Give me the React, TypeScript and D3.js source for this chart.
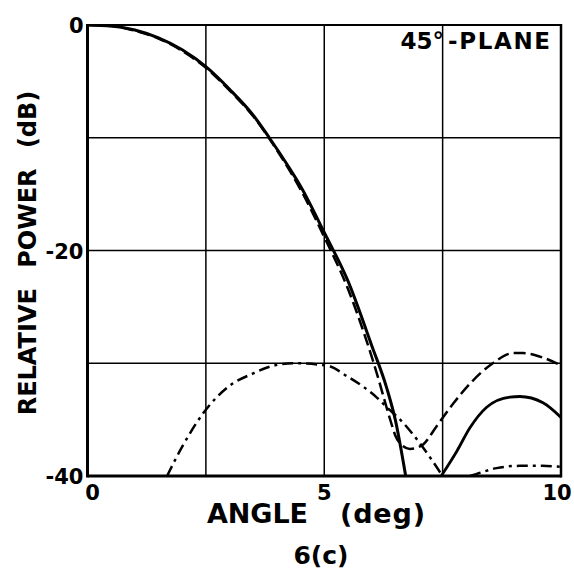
import React from "react";
import * as d3 from "d3";

const xTicks = [0, 2.5, 5, 7.5, 10];
const yTicks = [0, -10, -20, -30, -40];
const xLabels = [
  { v: 0, t: "0" },
  { v: 5, t: "5" },
  { v: 10, t: "10" },
];
const yLabels = [
  { v: 0, t: "0" },
  { v: -20, t: "-20" },
  { v: -40, t: "-40" },
];

const solidMainX = [0, 0.5, 1, 1.5, 2, 2.5, 3, 3.5, 3.84, 4.25, 4.5, 5, 5.5, 6, 6.32, 6.5, 6.72];
const solidMainY = [0, -0.1, -0.45, -1.15, -2.2, -3.7, -5.7, -8.0, -10, -12.6, -14.3, -18.4, -22.7, -28.4, -32.2, -35.0, -40];

const solidSideX = [7.47, 7.8, 8.08, 8.43, 8.92, 9.13, 9.62, 10];
const solidSideY = [-40, -37.8, -35.7, -33.9, -33.0, -32.95, -33.5, -34.8];

const dashedX = [0, 0.5, 1, 1.5, 2, 2.5, 3, 3.5, 4, 4.5, 5, 5.5, 6, 6.11, 6.4, 6.5, 6.65, 6.81, 6.95, 7.09, 7.37, 7.72, 8.08, 8.56, 8.99, 9.2, 9.62, 10];
const dashedY = [0, -0.1, -0.5, -1.2, -2.3, -3.8, -5.8, -8.1, -11.1, -14.6, -18.8, -23.4, -29.4, -30.9, -35.1, -36.4, -37.3, -37.6, -37.5, -37.2, -35.6, -33.6, -31.8, -30.0, -29.1, -29.1, -29.5, -30.2];

const dashDotX = [1.68, 2, 2.45, 3, 3.5, 3.78, 4.35, 5.05, 5.5, 6.1, 6.32, 6.67, 7.02, 7.5];
const dashDotY = [-40, -37.4, -34.4, -32.0, -30.9, -30.4, -30.0, -30.2, -31.2, -33.0, -33.9, -35.3, -37.1, -40];

const dashDot2X = [8.08, 8.3, 8.64, 9.13, 9.6, 10];
const dashDot2Y = [-40, -39.7, -39.3, -39.1, -39.1, -39.2];

const W = 574;
const H = 571;
const L = 87.5;
const R = 561;
const T = 25;
const B = 476;

const FONT = "'DejaVu Sans', sans-serif";

export default function App() {
  const x = d3.scaleLinear().domain([0, 10]).range([L, R]);
  const y = d3.scaleLinear().domain([0, -40]).range([T, B]);
  const mk = (xs: number[], ys: number[]) =>
    d3
      .line<number>()
      .x((_, i) => x(xs[i]))
      .y((_, i) => y(ys[i]))
      .curve(d3.curveMonotoneX)(xs) || "";

  return (
    <svg
      width={W}
      height={H}
      style={{ position: "absolute", left: 0, top: 0, background: "#fff" }}
    >
      <defs>
        <clipPath id="plot">
          <rect x={L} y={T} width={R - L} height={B - T} />
        </clipPath>
      </defs>
      {/* grid */}
      {xTicks.slice(1, -1).map((v) => (
        <line key={"gx" + v} x1={x(v)} x2={x(v)} y1={T} y2={B} stroke="#000" strokeWidth={1.5} />
      ))}
      {yTicks.slice(1, -1).map((v) => (
        <line key={"gy" + v} x1={L} x2={R} y1={y(v)} y2={y(v)} stroke="#000" strokeWidth={1.5} />
      ))}
      {/* frame */}
      <line x1={L} x2={R} y1={T} y2={T} stroke="#000" strokeWidth={2} />
      <line x1={L} x2={R} y1={B} y2={B} stroke="#000" strokeWidth={3} />
      <line x1={L} x2={L} y1={T - 1} y2={B + 1.5} stroke="#000" strokeWidth={3} />
      <line x1={R} x2={R} y1={T - 1} y2={B + 1.5} stroke="#000" strokeWidth={2.5} />

      <g clipPath="url(#plot)" fill="none" stroke="#000" strokeLinecap="butt">
        <path d={mk(solidMainX, solidMainY)} strokeWidth={3} />
        <path d={mk(solidSideX, solidSideY)} strokeWidth={2.8} />
        <path d={mk(dashedX, dashedY)} strokeWidth={2.5} strokeDasharray="12 5" />
        <path d={mk(dashDotX, dashDotY)} strokeWidth={2.5} strokeDasharray="11 5 3 5" />
        <path d={mk(dashDot2X, dashDot2Y)} strokeWidth={2.5} strokeDasharray="11 5 3 5" />
      </g>

      {/* tick labels */}
      <g fontFamily={FONT} fontWeight="bold" fontSize={21} fill="#000">
        {yLabels.map((d) => (
          <text key={"yl" + d.v} x={L - 4} y={y(d.v) + 8} textAnchor="end">
            {d.t}
          </text>
        ))}
        {xLabels.map((d) => (
          <text
            key={"xl" + d.v}
            x={d.v === 0 ? x(d.v) + 5 : d.v === 10 ? x(d.v) - 4 : x(d.v)}
            y={500}
            textAnchor="middle"
          >
            {d.t}
          </text>
        ))}
      </g>

      {/* titles */}
      <g fontFamily={FONT} fontWeight="bold" fill="#000">
        <text x={207} y={523} fontSize={27} textLength={101} lengthAdjust="spacing">
          ANGLE
        </text>
        <text x={340} y={523} fontSize={27} textLength={85} lengthAdjust="spacing">
          (deg)
        </text>
        <text
          transform={`translate(36, ${253}) rotate(-90)`}
          fontSize={24}
          textAnchor="middle"
          style={{ wordSpacing: "12px" }}
        >
          RELATIVE POWER (dB)
        </text>
        <text x={321} y={564} fontSize={25} textAnchor="middle">
          6(c)
        </text>
        <text x={444} y={49} fontSize={23} textAnchor="end">
          45°
        </text>
        <text x={448} y={49} fontSize={23} textLength={102} lengthAdjust="spacing">
          -PLANE
        </text>
      </g>
    </svg>
  );
}
